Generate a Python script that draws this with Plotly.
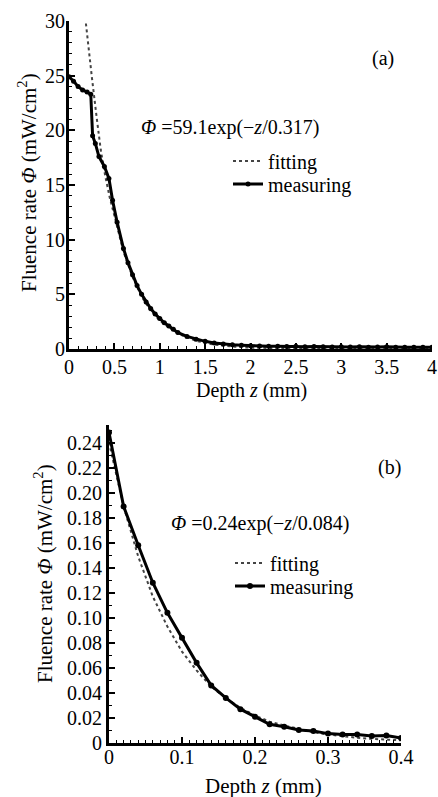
import plotly.graph_objects as go

W, H = 438, 797

# ---------------- Panel (a) data ----------------
a_meas_z = [0, 0.05, 0.1, 0.15, 0.2, 0.24, 0.26, 0.29, 0.33, 0.39, 0.44, 0.48, 0.53,
            0.6, 0.65, 0.7, 0.75, 0.8, 0.85, 0.9, 0.95, 1.0, 1.05, 1.1, 1.15, 1.2,
            1.3, 1.4, 1.5, 1.6, 1.7, 1.8, 1.9, 2.0, 2.1, 2.2, 2.3, 2.4, 2.5, 2.6,
            2.7, 2.8, 2.9, 3.0, 3.1, 3.2, 3.3, 3.4, 3.5, 3.6, 3.7, 3.8, 3.9, 4.0]
a_meas_phi = [24.9, 24.5, 24.0, 23.7, 23.5, 23.3, 19.5, 18.8, 17.6, 16.7, 15.6, 13.6, 11.6,
              9.2, 7.9, 6.8, 5.8, 5.0, 4.3, 3.7, 3.2, 2.8, 2.4, 2.1, 1.8, 1.5,
              1.15, 0.9, 0.7, 0.55, 0.45, 0.4, 0.35, 0.3, 0.28, 0.25, 0.25, 0.22, 0.25, 0.2,
              0.22, 0.2, 0.18, 0.2, 0.18, 0.2, 0.17, 0.18, 0.2, 0.16, 0.17, 0.15, 0.16, 0.15]
a_fit_z = [0.15, 0.2, 0.25, 0.3, 0.35, 0.4, 0.45, 0.5, 0.6, 0.7, 0.8, 0.9, 1.0, 1.2,
           1.4, 1.6, 1.8, 2.0, 2.5, 3.0, 3.5, 4.0]
a_fit_phi = [32.5, 28.6, 25.0, 21.5, 18.2, 15.8, 13.8, 12.2, 8.9, 6.6, 4.8, 3.5, 2.6, 1.4,
             0.75, 0.4, 0.22, 0.12, 0.04, 0.02, 0.01, 0.0]
a_xticks = [0, 0.5, 1, 1.5, 2, 2.5, 3, 3.5, 4]
a_xticktext = ["0", "0.5", "1", "1.5", "2", "2.5", "3", "3.5", "4"]
a_yticks = [0, 5, 10, 15, 20, 25, 30]
a_yticktext = ["0", "5", "10", "15", "20", "25", "30"]

# ---------------- Panel (b) data ----------------
b_meas_z = [0, 0.02, 0.04, 0.06, 0.08, 0.10, 0.12, 0.14, 0.16, 0.18, 0.20, 0.22, 0.24,
            0.26, 0.28, 0.30, 0.32, 0.34, 0.36, 0.38, 0.40]
b_meas_phi = [0.248, 0.189, 0.158, 0.128, 0.104, 0.084, 0.064, 0.046, 0.036, 0.027, 0.021,
              0.015, 0.013, 0.0104, 0.0096, 0.0075, 0.0067, 0.0067, 0.0056, 0.006, 0.004]
b_fit_z = [0, 0.02, 0.04, 0.06, 0.08, 0.10, 0.12, 0.14, 0.16, 0.18, 0.20, 0.22, 0.24,
           0.26, 0.28, 0.30, 0.32, 0.34, 0.36, 0.38, 0.40]
b_fit_phi = [0.240, 0.189, 0.149, 0.117, 0.093, 0.073, 0.058, 0.045, 0.036, 0.028, 0.022,
             0.017, 0.014, 0.011, 0.0086, 0.0068, 0.0053, 0.0042, 0.0033, 0.0026, 0.0021]
b_xticks = [0, 0.1, 0.2, 0.3, 0.4]
b_xticktext = ["0", "0.1", "0.2", "0.3", "0.4"]
b_yticks = [0, 0.02, 0.04, 0.06, 0.08, 0.10, 0.12, 0.14, 0.16, 0.18, 0.20, 0.22, 0.24]
b_yticktext = ["0", "0.02", "0.04", "0.06", "0.08", "0.10", "0.12", "0.14", "0.16",
               "0.18", "0.20", "0.22", "0.24"]

labels = ["fitting", "measuring"]
formula_a = "<i>Φ</i> =59.1exp(−<i>z</i>/0.317)"
formula_b = "<i>Φ</i> =0.24exp(−<i>z</i>/0.084)"
xtitle = "Depth <i>z</i> (mm)"
ytitle = "Fluence rate <i>Φ</i> (mW/cm<sup>2</sup>)"

FONT = "Liberation Serif, Times New Roman, serif"
FS = 20
TFS = 21

def px(x):
    return x / W

def py(y):
    return 1 - y / H

fig = go.Figure()

fit_line = dict(color="#444444", width=2, dash="dot")
meas_line = dict(color="black", width=3)

fig.add_trace(go.Scatter(x=a_fit_z, y=a_fit_phi, mode="lines", line=fit_line,
                         name=labels[0], legend="legend", xaxis="x", yaxis="y"))
fig.add_trace(go.Scatter(x=a_meas_z, y=a_meas_phi, mode="lines+markers", line=meas_line,
                         marker=dict(symbol="circle", size=5, color="black"),
                         name=labels[1], legend="legend2", xaxis="x", yaxis="y"))
fig.add_trace(go.Scatter(x=b_fit_z, y=b_fit_phi, mode="lines", line=fit_line,
                         name=labels[0], legend="legend3", xaxis="x2", yaxis="y2"))
fig.add_trace(go.Scatter(x=b_meas_z, y=b_meas_phi, mode="lines+markers", line=meas_line,
                         marker=dict(symbol="circle", size=6, color="black"),
                         name=labels[1], legend="legend4", xaxis="x2", yaxis="y2"))

common = dict(showline=True, linecolor="black", linewidth=3, ticks="inside",
              tickcolor="black", tickwidth=1.5, ticklen=6, showgrid=False,
              zeroline=False, mirror=False, automargin=False,
              ticklabeloverflow="allow",
              tickfont=dict(family=FONT, size=FS, color="black"))

fig.update_layout(
    width=W, height=H,
    margin=dict(l=0, r=0, t=0, b=0),
    paper_bgcolor="white", plot_bgcolor="white",
    showlegend=True,
    font=dict(family=FONT, size=FS, color="black"),
    xaxis=dict(domain=[px(69), px(432)], anchor="y", range=[0, 4],
               tickmode="array", tickvals=a_xticks, ticktext=a_xticktext,
               minor=dict(dtick=0.1, ticks="inside", ticklen=3, tickwidth=1, tickcolor="black"),
               ticklabelstandoff=-2, **common),
    yaxis=dict(domain=[py(349), py(21)], anchor="x", range=[0, 30],
               tickmode="array", tickvals=a_yticks, ticktext=a_yticktext,
               minor=dict(dtick=1, ticks="inside", ticklen=3, tickwidth=1, tickcolor="black"),
               ticklabelstandoff=-3, **common),
    xaxis2=dict(domain=[px(109), px(401)], anchor="y2", range=[0, 0.4],
                tickmode="array", tickvals=b_xticks, ticktext=b_xticktext,
                minor=dict(dtick=0.01, ticks="inside", ticklen=3, tickwidth=1, tickcolor="black"),
                ticklabelstandoff=-6, **common),
    yaxis2=dict(domain=[py(743), py(425)], anchor="x2", range=[0, 0.254],
                tickmode="array", tickvals=b_yticks, ticktext=b_yticktext,
                minor=dict(dtick=0.01, ticks="inside", ticklen=3, tickwidth=1, tickcolor="black"),
                ticklabelstandoff=0, **common),
)

leg_common = dict(xanchor="left", yanchor="middle", bgcolor="rgba(0,0,0,0)",
                  borderwidth=0, font=dict(family=FONT, size=FS, color="black"),
                  itemwidth=30, tracegroupgap=0)
fig.update_layout(
    legend=dict(x=px(228), y=py(161), **leg_common),
    legend2=dict(x=px(228), y=py(184), **leg_common),
    legend3=dict(x=px(230), y=py(563), **leg_common),
    legend4=dict(x=px(230), y=py(586), **leg_common),
)

ann_font = dict(family=FONT, size=FS, color="black")
title_font = dict(family=FONT, size=TFS, color="black")

def note(x, y, text, font=ann_font, angle=0):
    fig.add_annotation(x=px(x), y=py(y), xref="paper", yref="paper", text=text,
                       showarrow=False, font=font, xanchor="center", yanchor="middle",
                       textangle=angle)

note(230, 127, formula_a)
note(383, 58, "(a)")
note(260, 523, formula_b)
note(389, 468, "(b)")
# axis titles
note(251, 390, xtitle, dict(family=FONT, size=FS, color="black"))
note(263, 786, xtitle, title_font)
note(27, 183, ytitle, title_font, -90)
note(43, 574, ytitle, title_font, -90)

fig.write_html("out.html", config={"displayModeBar": False},
               post_script="document.body.style.margin='0';document.body.style.overflow='hidden';")
